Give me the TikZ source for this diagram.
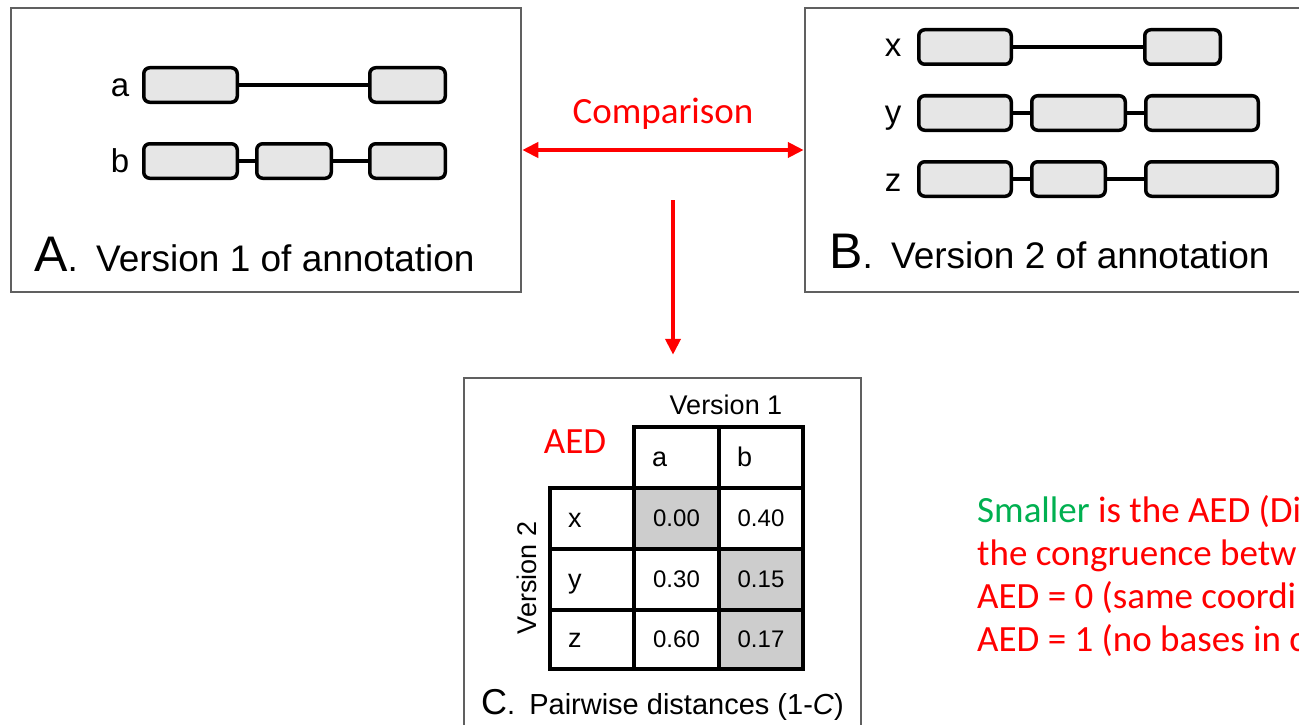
\documentclass[tikz,border=0pt]{standalone}
\usepackage{fontspec}
\setmainfont{Liberation Sans}
\newfontfamily\calibrifont{Carlito}
\usetikzlibrary{arrows.meta,calc}
\definecolor{panelgray}{HTML}{606060}
\definecolor{exonfill}{HTML}{E6E6E6}
\definecolor{cellshade}{HTML}{CDCDCD}
\definecolor{aedred}{HTML}{FF0000}
\definecolor{aedgreen}{HTML}{00B050}
\newcommand\setfs[1]{\fontsize{#1}{#1}\selectfont}
% exon box: name, left, right, centre y
\newcommand\exonbox[4]{\node[exon, minimum width={#3-#2-3.5}] (#1) at ({(#2+#3)/2},#4) {};}
% table cell: name, x1, y1, x2, y2, fill, text
\newcommand\tcell[7]{\node[cell, fill=#6, minimum width={#4-#2}, minimum height={#5-#3}] (#1) at ({(#2+#4)/2},{(#3+#5)/2}) {#7};}
\begin{document}
\begin{tikzpicture}[x=1pt,y=-1pt,
  panel/.style={draw=panelgray, line width=2.5pt, fill=white, inner sep=0pt},
  exon/.style={draw=black, fill=exonfill, line width=3.5pt, rounded corners=6pt,
    minimum height=34.5pt, inner sep=0pt},
  intron/.style={draw=black, line width=3.5pt},
  trackname/.style={font=\setfs{33}, inner sep=0pt, anchor=base},
  cell/.style={draw=black, line width=3.5pt, inner sep=0pt, font=\setfs{24}},
  celllabel/.style={font=\setfs{27}, inner sep=0pt, anchor=base west},
  redtext/.style={font=\calibrifont\setfs{37}, text=aedred, inner sep=0pt},
  notetext/.style={redtext, anchor=base west},
  redarrow/.style={draw=aedred, line width=4pt},
  tip/.tip={Triangle[length=16pt,width=15pt]}
]
\useasboundingbox (0,0) rectangle (1299,725);
\clip (0,0) rectangle (1299,725);
\fill[white] (0,0) rectangle (1299,725);

% ---------- panel A ----------
\node[panel, minimum width=510pt, minimum height=284pt] (A) at (266,150) {};
\node[trackname] (la) at (120,96) {a};
\node[trackname] (lb) at (120,172) {b};
\exonbox{a1}{142}{239}{85}
\exonbox{a2}{368}{447}{85}
\draw[intron] (a1.east) -- (a2.west);
\exonbox{b1}{142}{239}{161}
\exonbox{b2}{255}{333}{161}
\exonbox{b3}{368}{447}{161}
\draw[intron] (b1.east) -- (b2.west);
\draw[intron] (b2.east) -- (b3.west);
\node[anchor=base west, inner sep=0pt] (capA) at (34,271)
  {{\setfs{50}A}{\setfs{37}.\hspace{8pt} Version 1 of annotation}};

% ---------- panel B ----------
\node[panel, minimum width=505pt, minimum height=284pt] (B) at (1057.5,150) {};
\node[trackname] (lx) at (893,57) {x};
\node[trackname] (ly) at (893,123) {y};
\node[trackname] (lz) at (893,191) {z};
\exonbox{x1}{917}{1013}{47}
\exonbox{x2}{1143}{1222}{47}
\draw[intron] (x1.east) -- (x2.west);
\exonbox{y1}{917}{1013}{113}
\exonbox{y2}{1030}{1127}{113}
\exonbox{y3}{1144}{1260}{113}
\draw[intron] (y1.east) -- (y2.west);
\draw[intron] (y2.east) -- (y3.west);
\exonbox{z1}{917}{1013}{179}
\exonbox{z2}{1030}{1107}{179}
\exonbox{z3}{1144}{1279}{179}
\draw[intron] (z1.east) -- (z2.west);
\draw[intron] (z2.east) -- (z3.west);
\node[anchor=base west, inner sep=0pt] (capB) at (829,268)
  {{\setfs{50}B}{\setfs{37}.\hspace{8pt} Version 2 of annotation}};

% ---------- comparison arrows ----------
\node[redtext, anchor=base] (cmp) at (663,123) {Comparison};
\draw[redarrow, tip-tip] (A.east) -- (B.west);
\coordinate (down) at (673,200);

% ---------- panel C ----------
\node[panel, minimum width=397pt, minimum height=362pt] (C) at (662.5,559) {};
\draw[redarrow, -tip, shorten >=22pt] (down) -- (down |- C.north);

\node[font=\setfs{27}, anchor=base, inner sep=0pt] (v1) at (726,414) {Version 1};
\node[font=\setfs{27}, rotate=90, inner sep=0pt] (v2) at (527,578) {Version 2};
\node[redtext] (aed) at (575,442) {AED};

% header row
\tcell{ha}{634}{427}{719}{488}{white}{}
\tcell{hb}{719}{427}{803}{488}{white}{}
\node[celllabel] (ta) at (652,466) {a};
\node[celllabel] (tb) at (737,466) {b};
% row x
\tcell{rx}{550}{488}{634}{549}{white}{}
\tcell{xa}{634}{488}{719}{549}{cellshade}{0.00}
\tcell{xb}{719}{488}{803}{549}{white}{0.40}
\node[celllabel] (tx) at (568,527) {x};
% row y
\tcell{ry}{550}{549}{634}{610}{white}{}
\tcell{ya}{634}{549}{719}{610}{white}{0.30}
\tcell{yb}{719}{549}{803}{610}{cellshade}{0.15}
\node[celllabel] (ty) at (568,588) {y};
% row z
\tcell{rz}{550}{610}{634}{669}{white}{}
\tcell{za}{634}{610}{719}{669}{white}{0.60}
\tcell{zb}{719}{610}{803}{669}{cellshade}{0.17}
\node[celllabel] (tz) at (568,647) {z};

\node[anchor=base west, inner sep=0pt] (capC) at (481,714)
  {{\setfs{36}C}{\setfs{29}.\hspace{6pt} Pairwise distances (1-\textit{C})}};

% ---------- notes ----------
\node[notetext] (n1) at (977,522) {{\color{aedgreen}Smaller} is the AED (Di};
\node[notetext] (n2) at (977,565) {the congruence betw};
\node[notetext] (n3) at (977,608) {AED = 0 (same coordi};
\node[notetext] (n4) at (977,651) {AED = 1 (no bases in c};
\end{tikzpicture}
\end{document}
